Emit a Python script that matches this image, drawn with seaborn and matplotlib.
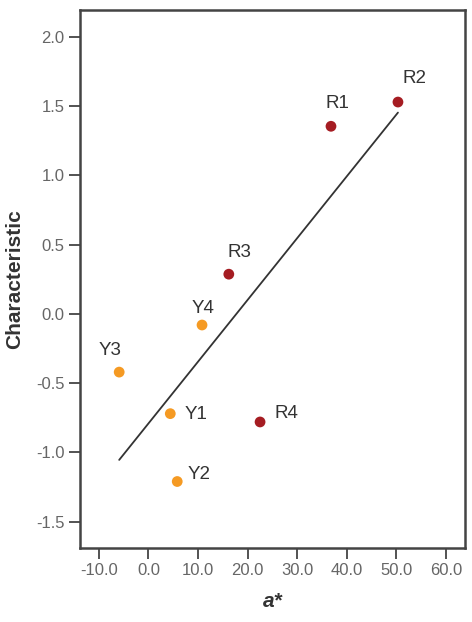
import pandas as pd
import matplotlib
matplotlib.use("Agg")
import matplotlib.pyplot as plt
import seaborn as sns

# values
names = ['Y1', 'Y2', 'Y3', 'Y4', 'R1', 'R2', 'R3', 'R4']
a_star = [4.4, 5.8, -5.9, 10.8, 36.8, 50.3, 16.2, 22.5]
characteristic = [-0.72, -1.21, -0.42, -0.08, 1.355, 1.53, 0.287, -0.78]
groups = ['Y', 'Y', 'Y', 'Y', 'R', 'R', 'R', 'R']
x_ticks = [-10, 0, 10, 20, 30, 40, 50, 60]
y_ticks = [-1.5, -1.0, -0.5, 0.0, 0.5, 1.0, 1.5, 2.0]

df = pd.DataFrame({'a*': a_star, 'Characteristic': characteristic,
                   'group': groups, 'name': names})

sns.set_style('white')
plt.rcParams['font.family'] = ['Liberation Sans', 'DejaVu Sans']

colors = {'Y': '#f59a23', 'R': '#a51c22'}
# label offsets in pixels (dx, dy) from each point
offsets = {'Y1': (14, -5), 'Y2': (10, 3), 'Y3': (-21, 17), 'Y4': (-10, 12),
           'R1': (-5, 18), 'R2': (5, 19), 'R3': (-1, 17), 'R4': (14, 4)}

fig = plt.figure(figsize=(4.72, 6.22), dpi=100)
ax = fig.add_axes([0.1695, 0.119, 0.8155, 0.865])

sns.regplot(data=df, x='a*', y='Characteristic', ax=ax, ci=None, scatter=False,
            truncate=True, line_kws={'color': '#333333', 'linewidth': 1.3})
sns.scatterplot(data=df, x='a*', y='Characteristic', hue='group', palette=colors,
                s=60, edgecolor='none', legend=False, ax=ax, zorder=3)

for _, row in df.iterrows():
    dx, dy = offsets[row['name']]
    ax.annotate(row['name'], (row['a*'], row['Characteristic']),
                xytext=(dx, dy), textcoords='offset pixels',
                ha='left', va='baseline', fontsize=13.5, color='#333333')

ax.set_xlim(-13.8, 63.8)
ax.set_ylim(-1.69, 2.195)
ax.set_xticks(x_ticks)
ax.set_xticklabels([f'{v:.1f}' for v in x_ticks])
ax.set_yticks(y_ticks)
ax.set_yticklabels([f'{v:.1f}' for v in y_ticks])
ax.tick_params(axis='both', direction='out', length=8, width=1.3,
               color='#444444', labelsize=12, labelcolor='#666666',
               bottom=True, left=True, pad=3)

for side in ax.spines.values():
    side.set_color('#444444')
    side.set_linewidth(1.8)

ax.set_xlabel('a*', fontsize=15, fontweight='bold', fontstyle='italic',
              color='#333333', labelpad=10)
ax.set_ylabel('Characteristic', fontsize=15, fontweight='bold',
              color='#333333', labelpad=9)

fig.savefig('out.png', dpi=100)
